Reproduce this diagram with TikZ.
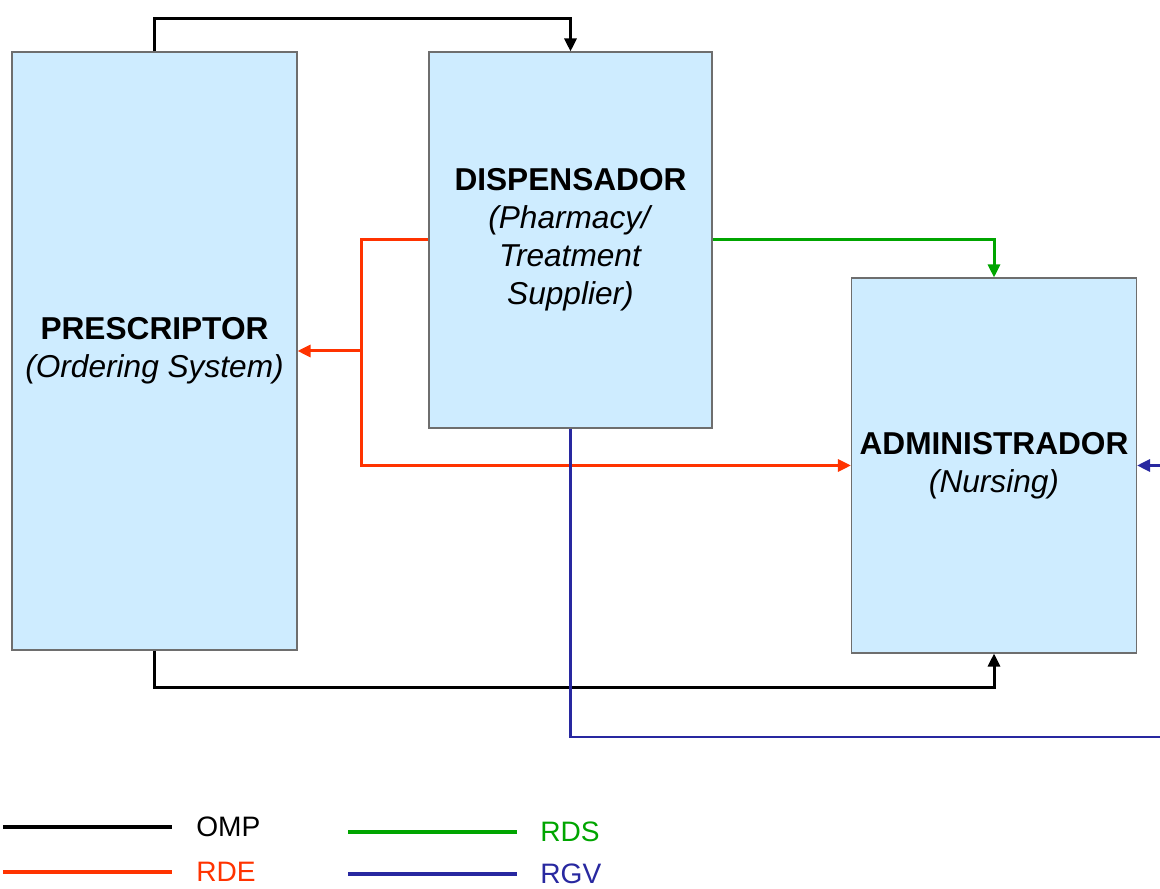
\documentclass[tikz,border=0pt]{standalone}
\usepackage{fontspec}
\setmainfont{Liberation Sans}
\usetikzlibrary{arrows.meta, positioning}
\definecolor{boxfill}{RGB}{206,236,255}
\definecolor{boxline}{RGB}{110,110,110}
\definecolor{rdered}{RGB}{255,51,0}
\definecolor{rdsgreen}{RGB}{0,165,0}
\definecolor{rgvblue}{RGB}{40,40,160}
\tikzset{
    system/.style={rectangle, draw=boxline, fill=boxfill, line width=0.6pt, inner sep=0pt, minimum width=5.7cm, align=center, font=\fontsize{18}{21.6}\selectfont},
    link/.style={-{Triangle[length=2.6mm, width=2.4mm]}, line width=1.7pt},
    omp/.style={link, black},
    rde/.style={link, rdered},
    rds/.style={link, rdsgreen},
    rgv/.style={link, rgvblue},
    key/.style={line width=2.3pt},
    keytext/.style={anchor=west, inner sep=0pt, font=\fontsize{16}{19}\selectfont},
}
\begin{document}
\begin{tikzpicture}
\useasboundingbox (0,0) rectangle (23.2,17.78);
% systems
\node[system, minimum height=11.96cm] (presc) at (3.09,10.76) {\textbf{PRESCRIPTOR}\\\textit{(Ordering System)}};
\node[system, minimum width=5.66cm, minimum height=7.52cm] (disp) at (11.41,12.98) {\textbf{DISPENSADOR}\\\textit{(Pharmacy/}\\\textit{Treatment}\\\textit{Supplier)}};
\node[system, minimum height=7.5cm] (admin) at (19.88,8.47) {\textbf{ADMINISTRADOR}\\\textit{(Nursing)}};
% messages
\draw[omp] (presc.north) -- ++(0,0.66) -| (disp.north);
\draw[omp] (presc.south) -- ++(0,-0.74) -| (admin.south);
\draw[rds] (disp.east) -| (admin.north);
\draw[rde] (disp.west) -- ++(-1.34,0) coordinate (rdesplit) |- (admin.west);
\draw[rde] (rdesplit |- presc.east) -- (presc.east);
\coordinate (rgvturn) at (23.9,3.04);
\draw[rgv] (disp.south) |- (rgvturn) |- (admin.east);
% legend
\draw[key, black] (0.06,1.24) -- ++(3.38,0);
\node[keytext] (ompkey) at (3.92,1.24) {OMP};
\draw[key, rdered] (0.06,0.34) -- ++(3.38,0);
\node[keytext, text=rdered] (rdekey) at (3.92,0.34) {RDE};
\draw[key, rdsgreen] (6.96,1.14) -- ++(3.38,0);
\node[keytext, text=rdsgreen] (rdskey) at (10.8,1.14) {RDS};
\draw[key, rgvblue] (6.96,0.3) -- ++(3.38,0);
\node[keytext, text=rgvblue] (rgvkey) at (10.8,0.3) {RGV};
\end{tikzpicture}
\end{document}
